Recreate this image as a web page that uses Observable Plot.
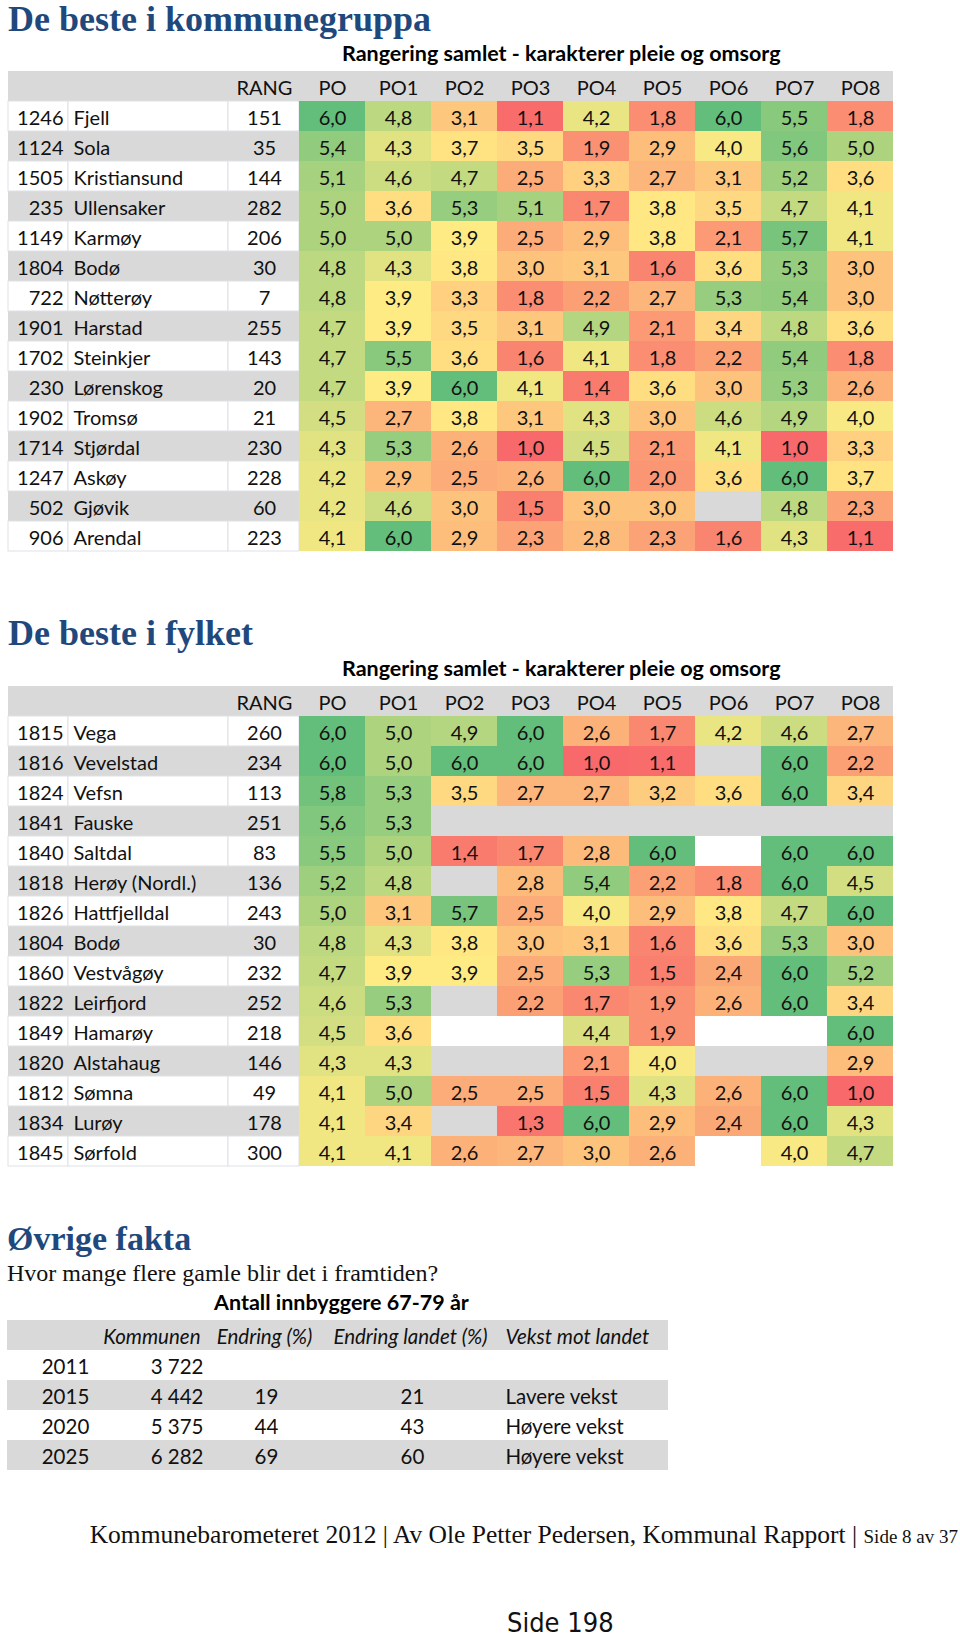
<!DOCTYPE html>
<html><head><meta charset="utf-8">
<script src="https://cdn.jsdelivr.net/npm/d3@7"></script>
<script src="https://cdn.jsdelivr.net/npm/@observablehq/plot@0.6"></script>
<style>
body{margin:0;background:#fff;width:960px;height:1636px;position:relative;overflow:hidden}
.abs{position:absolute;white-space:nowrap;line-height:1;margin:0}
.title{font-family:"Liberation Serif",serif;font-weight:bold;color:#1F497D;font-size:36px;left:8px}
.sub{font-family:Lato,sans-serif;font-weight:bold;font-size:21.5px;color:#000}
.garamond{font-family:"Liberation Serif",serif;color:#111}
#err{position:absolute;left:0;top:300px;color:red;font:14px monospace;white-space:pre-wrap;width:950px}
</style></head>
<body>
<div class="abs title" style="top:1px">De beste i kommunegruppa</div>
<div class="abs sub" style="top:43px;left:342px">Rangering samlet - karakterer pleie og omsorg</div>
<div id="tab1" class="abs" style="top:68px;left:0;width:960px;height:487px"></div>

<div class="abs title" style="top:615px">De beste i fylket</div>
<div class="abs sub" style="top:658px;left:342px">Rangering samlet - karakterer pleie og omsorg</div>
<div id="tab2" class="abs" style="top:683px;left:0;width:960px;height:487px"></div>

<div class="abs title" style="top:1222px;left:7px;font-size:34px">Øvrige fakta</div>
<div class="abs garamond" style="top:1261px;left:7px;font-size:24px">Hvor mange flere gamle blir det i framtiden?</div>
<div class="abs sub" style="top:1292px;left:214px">Antall innbyggere 67-79 år</div>
<div id="tab3" class="abs" style="top:1318px;left:0;width:960px;height:153px"></div>

<div class="abs garamond" style="top:1522px;right:2px;font-size:25.5px">Kommunebarometeret 2012 | Av Ole Petter Pedersen, Kommunal Rapport | <span style="font-size:19px">Side 8 av 37</span></div>
<div class="abs" style="top:1609px;left:507px;font-size:27px;font-family:'Liberation Sans Narrow','DejaVu Sans Condensed',sans-serif;color:#111">Side 198</div>
<div id="err"></div>

<script>
window.onerror = (m, s, l, c, e) => { document.getElementById("err").textContent += m + " @" + l + ":" + c + "\n"; };
// ---- data ----
const columns = ["PO","PO1","PO2","PO3","PO4","PO5","PO6","PO7","PO8"];

const group1Codes = [1246,1124,1505,235,1149,1804,722,1901,1702,230,1902,1714,1247,502,906];
const group1Names = ["Fjell","Sola","Kristiansund","Ullensaker","Karmøy","Bodø","Nøtterøy","Harstad","Steinkjer","Lørenskog","Tromsø","Stjørdal","Askøy","Gjøvik","Arendal"];
const group1Rang = [151,35,144,282,206,30,7,255,143,20,21,230,228,60,223];
const group1Values = [
  [6.0,4.8,3.1,1.1,4.2,1.8,6.0,5.5,1.8],
  [5.4,4.3,3.7,3.5,1.9,2.9,4.0,5.6,5.0],
  [5.1,4.6,4.7,2.5,3.3,2.7,3.1,5.2,3.6],
  [5.0,3.6,5.3,5.1,1.7,3.8,3.5,4.7,4.1],
  [5.0,5.0,3.9,2.5,2.9,3.8,2.1,5.7,4.1],
  [4.8,4.3,3.8,3.0,3.1,1.6,3.6,5.3,3.0],
  [4.8,3.9,3.3,1.8,2.2,2.7,5.3,5.4,3.0],
  [4.7,3.9,3.5,3.1,4.9,2.1,3.4,4.8,3.6],
  [4.7,5.5,3.6,1.6,4.1,1.8,2.2,5.4,1.8],
  [4.7,3.9,6.0,4.1,1.4,3.6,3.0,5.3,2.6],
  [4.5,2.7,3.8,3.1,4.3,3.0,4.6,4.9,4.0],
  [4.3,5.3,2.6,1.0,4.5,2.1,4.1,1.0,3.3],
  [4.2,2.9,2.5,2.6,6.0,2.0,3.6,6.0,3.7],
  [4.2,4.6,3.0,1.5,3.0,3.0,null,4.8,2.3],
  [4.1,6.0,2.9,2.3,2.8,2.3,1.6,4.3,1.1]
];

const group2Codes = [1815,1816,1824,1841,1840,1818,1826,1804,1860,1822,1849,1820,1812,1834,1845];
const group2Names = ["Vega","Vevelstad","Vefsn","Fauske","Saltdal","Herøy (Nordl.)","Hattfjelldal","Bodø","Vestvågøy","Leirfjord","Hamarøy","Alstahaug","Sømna","Lurøy","Sørfold"];
const group2Rang = [260,234,113,251,83,136,243,30,232,252,218,146,49,178,300];
const group2Values = [
  [6.0,5.0,4.9,6.0,2.6,1.7,4.2,4.6,2.7],
  [6.0,5.0,6.0,6.0,1.0,1.1,null,6.0,2.2],
  [5.8,5.3,3.5,2.7,2.7,3.2,3.6,6.0,3.4],
  [5.6,5.3,null,null,null,null,null,null,null],
  [5.5,5.0,1.4,1.7,2.8,6.0,null,6.0,6.0],
  [5.2,4.8,null,2.8,5.4,2.2,1.8,6.0,4.5],
  [5.0,3.1,5.7,2.5,4.0,2.9,3.8,4.7,6.0],
  [4.8,4.3,3.8,3.0,3.1,1.6,3.6,5.3,3.0],
  [4.7,3.9,3.9,2.5,5.3,1.5,2.4,6.0,5.2],
  [4.6,5.3,null,2.2,1.7,1.9,2.6,6.0,3.4],
  [4.5,3.6,null,null,4.4,1.9,null,null,6.0],
  [4.3,4.3,null,null,2.1,4.0,null,null,2.9],
  [4.1,5.0,2.5,2.5,1.5,4.3,2.6,6.0,1.0],
  [4.1,3.4,null,1.3,6.0,2.9,2.4,6.0,4.3],
  [4.1,4.1,2.6,2.7,3.0,2.6,null,4.0,4.7]
];

const factYears = ["2011","2015","2020","2025"];
const factKommunen = [3722,4442,5375,6282];
const factEndring = [null,19,44,69];
const factEndringLandet = [null,21,43,60];
const factVekst = ["","Lavere vekst","Høyere vekst","Høyere vekst"];
const factHeaders = ["Kommunen","Endring (%)","Endring landet (%)","Vekst mot landet"];

// ---- helpers ----
const fmt1 = v => v.toFixed(1).replace(".", ",");
const fmtInt = v => d3.format(",d")(v).replace(/,/g, "\u00a0");
const FONT = "Lato, sans-serif";
const FS = "20px";
const GRAY = "#d9d9d9";

function makeTable(codes, names, rang, values) {
  const rows = codes.map((c, i) => ({key: String(c), code: String(c), name: names[i], rang: String(rang[i]), i}));
  const cells = [];
  rows.forEach((r, i) => columns.forEach((col, j) => {
    const v = values[i][j];
    if (v != null) cells.push({key: r.key, col, v});
  }));
  const grayKeys = ["hdr", ...rows.filter(r => r.i % 2 === 1).map(r => r.key)];
  const whiteRows = rows.filter(r => r.i % 2 === 0);
  const frameL = 299, frameR = 893;
  const borderCell = (left, right) => Plot.cell(whiteRows, {
    y: "key", fill: "white", stroke: "#dde1e6", strokeWidth: 1,
    insetLeft: left - frameL, insetRight: frameR - right
  });
  return Plot.plot({
    width: 960, height: 487,
    marginLeft: frameL, marginRight: 960 - frameR, marginTop: 0, marginBottom: 2,
    x: {domain: columns, padding: 0, axis: null},
    y: {domain: ["hdr", ...rows.map(r => r.key)], padding: 0, axis: null},
    color: {type: "linear", domain: [1, 3.9, 6], range: ["#F8696B", "#FFEB84", "#63BE7B"]},
    style: {fontFamily: FONT, fontSize: FS, background: "transparent", overflow: "visible"},
    marks: [
      Plot.cell(grayKeys, {y: d => d, fill: GRAY, insetLeft: 8 - frameL}),
      borderCell(8, 68),
      borderCell(68, 228),
      borderCell(228, 299),
      Plot.cell(cells, {x: "col", y: "key", fill: "v"}),
      Plot.text(cells, {x: "col", y: "key", text: d => fmt1(d.v), fill: "#111", dy: 2}),
      Plot.text(columns, {x: d => d, y: () => "hdr", text: d => d, fill: "#111", dy: 2}),
      Plot.text(["RANG"], {y: () => "hdr", frameAnchor: "left", textAnchor: "middle", dx: 264 - frameL, text: d => d, fill: "#111", dy: 2}),
      Plot.text(rows, {y: "key", text: "code", frameAnchor: "left", textAnchor: "end", dx: 63 - frameL, fill: "#111", dy: 2}),
      Plot.text(rows, {y: "key", text: "name", frameAnchor: "left", textAnchor: "start", dx: 73 - frameL, fill: "#111", dy: 2}),
      Plot.text(rows, {y: "key", text: "rang", frameAnchor: "left", textAnchor: "middle", dx: 264 - frameL, fill: "#111", dy: 2})
    ]
  });
}

function makeFacts() {
  const rows = factYears.map((y, i) => ({
    key: y, year: y, kommunen: fmtInt(factKommunen[i]),
    endring: factEndring[i] == null ? "" : String(factEndring[i]),
    landet: factEndringLandet[i] == null ? "" : String(factEndringLandet[i]),
    vekst: factVekst[i]
  }));
  const frameL = 7, frameR = 668;
  const grayKeys = ["hdr", "2015", "2025"];
  const col = (field, pos, anchor) => Plot.text(rows, {y: "key", text: field, frameAnchor: "left", dx: pos - frameL, textAnchor: anchor, fill: "#111", dy: 2});
  const hdr = (label, pos, anchor) => Plot.text([label], {y: () => "hdr", text: d => d, frameAnchor: "left", dx: pos - frameL, textAnchor: anchor, fontStyle: "italic", fill: "#111", dy: 2});
  return Plot.plot({
    width: 960, height: 153,
    marginLeft: frameL, marginRight: 960 - frameR, marginTop: 0, marginBottom: 0,
    y: {domain: ["hdr", ...factYears], padding: 0, axis: null},
    style: {fontFamily: FONT, fontSize: "20.5px", background: "transparent", overflow: "visible"},
    marks: [
      Plot.cell(grayKeys, {y: d => d, fill: GRAY}),
      hdr(factHeaders[0], 200, "end"),
      hdr(factHeaders[1], 264, "middle"),
      hdr(factHeaders[2], 410, "middle"),
      hdr(factHeaders[3], 505, "start"),
      col("year", 65, "middle"),
      col("kommunen", 203, "end"),
      col("endring", 266, "middle"),
      col("landet", 412, "middle"),
      col("vekst", 505, "start")
    ]
  });
}

for (const [id, fn] of [["tab1", () => makeTable(group1Codes, group1Names, group1Rang, group1Values)],
                        ["tab2", () => makeTable(group2Codes, group2Names, group2Rang, group2Values)],
                        ["tab3", makeFacts]]) {
  try { document.getElementById(id).appendChild(fn()); }
  catch (e) { document.getElementById("err").textContent += id + ": " + e.message + "\n"; }
}
</script>
</body></html>
